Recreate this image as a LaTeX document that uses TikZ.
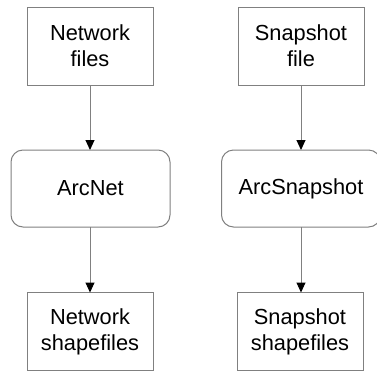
\documentclass[tikz,border=0pt]{standalone}
\usepackage{fontspec}
\setmainfont{Liberation Sans}
\usetikzlibrary{arrows.meta}
\definecolor{edge}{HTML}{808080}
\begin{document}
\begin{tikzpicture}[x=1pt,y=-1pt,
  filebox/.style={draw=edge,line width=1pt,rectangle,minimum width=126pt,minimum height=78pt,
    inner sep=0pt,outer sep=0pt,align=center,font=\fontsize{21.8}{26}\selectfont},
  procbox/.style={draw=edge,line width=1pt,rectangle,rounded corners=12pt,minimum width=159pt,minimum height=77pt,
    inner sep=0pt,outer sep=0pt,align=center,font=\fontsize{21.8}{26}\selectfont},
  flow/.style={draw=edge,line width=1pt,-{Triangle[width=9pt,length=10pt,color=black,fill=black]}}]
\useasboundingbox (0,0) rectangle (377,370);
\node[filebox] (nf) at (90,46) {Network\\files};
\node[filebox] (sf) at (301,46) {Snapshot\\file};
\node[procbox] (an) at (90.5,188.5) {ArcNet};
\node[procbox] (as) at (301,188.5) {ArcSnapshot};
\node[filebox] (ns) at (90,331.5) {Network\\shapefiles};
\node[filebox] (ss) at (300,331.5) {Snapshot\\shapefiles};
\draw[flow] (nf.south) -- (nf.south |- an.north);
\draw[flow] (sf.south) -- (sf.south |- as.north);
\draw[flow] (an.south -| nf.south) -- (ns.north -| nf.south);
\draw[flow] (as.south -| sf.south) -- (ss.north -| sf.south);
\end{tikzpicture}
\end{document}
